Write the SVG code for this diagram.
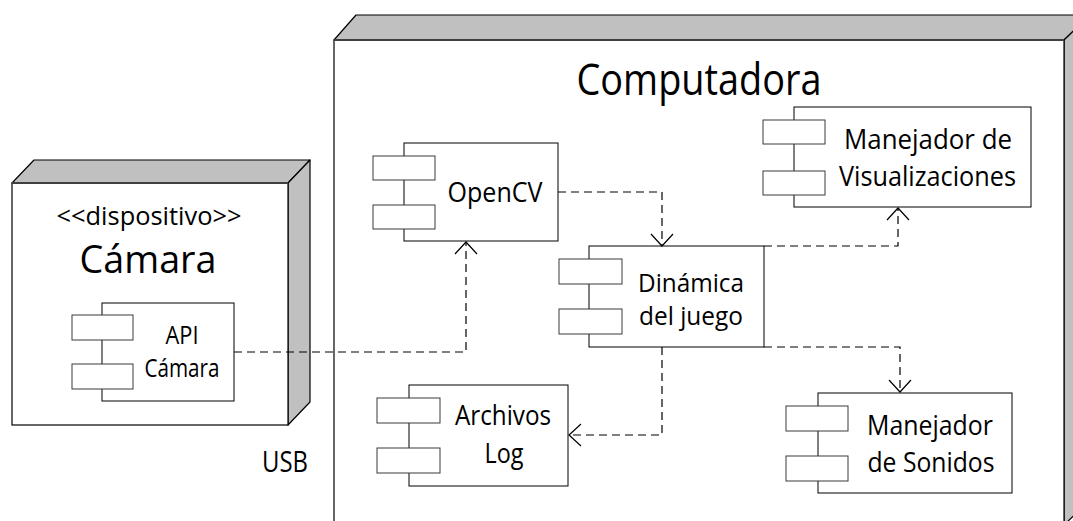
<svg xmlns="http://www.w3.org/2000/svg" width="1073" height="521" viewBox="0 0 1073 521">
<style>
.face{fill:#ffffff;stroke:#000000;stroke-width:1.2}
.side{fill:#c0c0c0;stroke:#000000;stroke-width:1.2;stroke-linejoin:round}
.box{fill:#ffffff;stroke:#000000;stroke-width:1}
.port{fill:#ffffff;stroke:#3a3a3a;stroke-width:1}
.t{font-family:"Open Sans","Liberation Sans",Arial,sans-serif;fill:#000000;text-anchor:middle}
.c{font-size:27px}
.dash{fill:none;stroke:#000000;stroke-width:1.2;stroke-dasharray:8,5;marker-end:url(#open)}
</style>
<defs>
<marker id="open" viewBox="-14 -12 16 24" markerWidth="16" markerHeight="24" refX="0" refY="0" markerUnits="userSpaceOnUse" orient="auto">
<path d="M-12,-11 L0,0 L-12,11" fill="none" stroke="#000000" stroke-width="1.2"/>
</marker>
</defs>
<rect width="1073" height="521" fill="#ffffff"/>

<g id="computadora">
<polygon class="side" points="334,40 356,15 1090,15 1064,40"/>
<polygon class="side" points="1064,40 1090,15 1090,500 1064,525"/>
<rect class="face" x="334" y="40" width="730" height="490"/>
<line x1="334" y1="40" x2="1064" y2="40" stroke="#404040" stroke-width="2"/>
<text class="t" x="699" y="95" font-size="44" textLength="245" lengthAdjust="spacingAndGlyphs">Computadora</text>
</g>

<g id="camara">
<polygon class="side" points="12,183 34,160 310,160 288,183"/>
<polygon class="side" points="288,183 310,160 310,402 288,425"/>
<rect class="face" x="12" y="183" width="276" height="242"/>
<line x1="12" y1="183" x2="288" y2="183" stroke="#404040" stroke-width="2"/>
<text class="t" x="149" y="225" font-size="25" textLength="185" lengthAdjust="spacingAndGlyphs">&lt;&lt;dispositivo&gt;&gt;</text>
<text class="t" x="148" y="273" font-size="39" textLength="137" lengthAdjust="spacingAndGlyphs">Cámara</text>
</g>

<g id="api-camara">
<rect class="box" x="102" y="303" width="132" height="98"/>
<rect class="port" x="72" y="315" width="61" height="25"/>
<rect class="port" x="72" y="364" width="61" height="25"/>
<text class="t" x="182" y="344" font-size="25" textLength="33" lengthAdjust="spacingAndGlyphs">API</text>
<text class="t" x="182" y="377" font-size="25" textLength="75" lengthAdjust="spacingAndGlyphs">Cámara</text>
</g>

<g id="opencv">
<rect class="box" x="404" y="143" width="154" height="98"/>
<rect class="port" x="373" y="156" width="62" height="24"/>
<rect class="port" x="373" y="205" width="62" height="24"/>
<text class="t c" x="495" y="202" textLength="95" lengthAdjust="spacingAndGlyphs">OpenCV</text>
</g>

<g id="dinamica">
<rect class="box" x="589" y="246" width="175" height="101"/>
<rect class="port" x="559" y="259" width="63" height="25"/>
<rect class="port" x="559" y="309" width="63" height="25"/>
<text class="t" x="691" y="292" font-size="26" textLength="106" lengthAdjust="spacingAndGlyphs">Dinámica</text>
<text class="t" x="691" y="325" font-size="26" textLength="104" lengthAdjust="spacingAndGlyphs">del juego</text>
</g>

<g id="visualizaciones">
<rect class="box" x="794" y="107" width="237" height="100"/>
<rect class="port" x="763" y="120" width="62" height="24"/>
<rect class="port" x="763" y="171" width="62" height="24"/>
<text class="t c" x="928" y="149" textLength="168" lengthAdjust="spacingAndGlyphs">Manejador de</text>
<text class="t c" x="927.5" y="186" textLength="177" lengthAdjust="spacingAndGlyphs">Visualizaciones</text>
</g>

<g id="archivos-log">
<rect class="box" x="409" y="385" width="159" height="101"/>
<rect class="port" x="377" y="398" width="63" height="25"/>
<rect class="port" x="377" y="448" width="63" height="25"/>
<text class="t c" x="503" y="425" textLength="96" lengthAdjust="spacingAndGlyphs">Archivos</text>
<text class="t c" x="504" y="463" textLength="39" lengthAdjust="spacingAndGlyphs">Log</text>
</g>

<g id="sonidos">
<rect class="box" x="818" y="393" width="194" height="100"/>
<rect class="port" x="786" y="406" width="62" height="25"/>
<rect class="port" x="786" y="456" width="62" height="25"/>
<text class="t c" x="930" y="435" textLength="126" lengthAdjust="spacingAndGlyphs">Manejador</text>
<text class="t c" x="931" y="472" textLength="127" lengthAdjust="spacingAndGlyphs">de Sonidos</text>
</g>

<g id="usb-label">
<text class="t" x="285" y="472" font-size="29" textLength="46" lengthAdjust="spacingAndGlyphs">USB</text>
</g>

<g id="connectors">
<path class="dash" d="M234,352 H466 V242"/>
<path class="dash" d="M558,192 H662 V246"/>
<path class="dash" d="M764,246 H898 V208"/>
<path class="dash" d="M764,347 H900 V392"/>
<path class="dash" d="M662,347 V435 H569"/>
</g>
</svg>
